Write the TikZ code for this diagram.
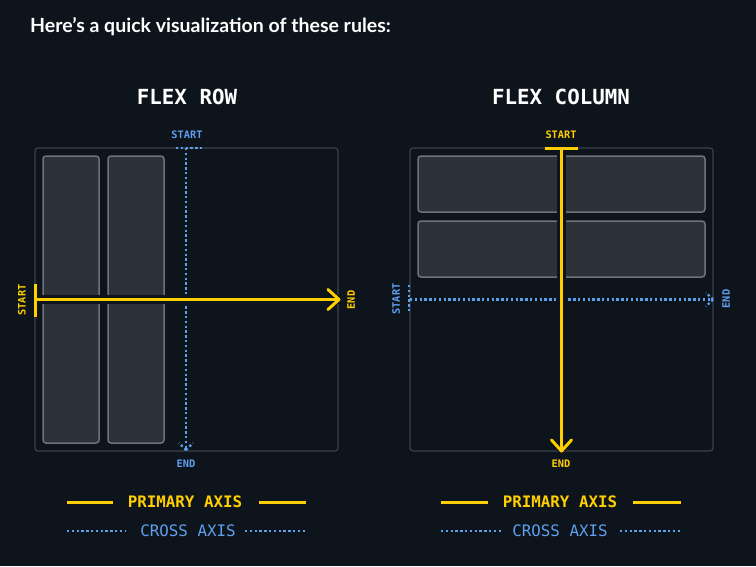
\documentclass[tikz,border=0pt]{standalone}
\usepackage{fontspec}
\setmainfont{Lato}
\newfontfamily\monob{DejaVu Sans Mono}[BoldFont={DejaVu Sans Mono Bold}]
\definecolor{bg}{HTML}{0E141B}
\definecolor{frame}{HTML}{3C424A}
\definecolor{boxfill}{HTML}{2C3239}
\definecolor{boxline}{HTML}{6E737B}
\definecolor{gold}{HTML}{FFCF00}
\definecolor{sky}{HTML}{5E9FEE}
\tikzset{
  container/.style={draw=frame, line width=1.2pt, rounded corners=3pt},
  itembox/.style={draw=boxline, fill=boxfill, line width=1.5pt, rounded corners=3pt},
  halo/.style={draw=bg, line width=9pt},
  primary/.style={draw=gold, line width=3pt},
  cross/.style={draw=sky, line width=2.3pt, dash pattern=on 2.3pt off 2.5pt},
  heading/.style={text=white, font=\monob\bfseries\fontsize{20.8}{24}\selectfont},
  smallgold/.style={text=gold, font=\monob\bfseries\fontsize{10.3}{12}\selectfont, inner sep=0pt},
  smallsky/.style={text=sky, font=\monob\bfseries\fontsize{10.3}{12}\selectfont, inner sep=0pt},
  legendgold/.style={text=gold, font=\monob\bfseries\fontsize{15.8}{18}\selectfont, inner sep=0pt},
  legendsky/.style={text=sky, font=\monob\fontsize{15.8}{18}\selectfont, inner sep=0pt},
}
\begin{document}
\begin{tikzpicture}[x=1pt, y=-1pt]
\fill[bg] (0,0) rectangle (756,566);
\useasboundingbox (0,0) rectangle (756,566);

% title
\node[anchor=base west, text=white, font=\bfseries\fontsize{19.5}{23}\selectfont, inner sep=0pt] (title) at (30,32) {Here{\char"0027}s a quick visualization of these rules:};

% ---------- FLEX ROW ----------
\node[heading] (rowhead) at (187,97) {FLEX ROW};
\draw[container] (35,148) rectangle (338,451);
\draw[itembox] (43,156) rectangle (99,443);
\draw[itembox] (108,156) rectangle (164,443);

% cross axis (vertical dotted)
\coordinate (rcs) at (186,148);
\coordinate (rce) at (186,450);
\draw[cross] (rcs) -- (rce);
\draw[cross] (176,148) -- (202,148);
\draw[cross] (rce) -- (179,443);
\draw[cross] (rce) -- (193,443);
\node[smallsky] (rcstart) at (187,135) {START};
\node[smallsky] (rcend) at (186,464) {END};

% primary axis (horizontal)
\coordinate (rps) at (35,299.5);
\coordinate (rpe) at (339,299.5);
\draw[halo] (rps) -- (rpe);
\draw[primary] (rps) -- (rpe);
\draw[primary] (35,284) -- (35,317);
\draw[primary, line cap=round, line join=round] (328,289.5) -- (rpe) -- (328,309.5);
\node[smallgold, rotate=90] (rpstart) at (22,300) {START};
\node[smallgold, rotate=90] (rpend) at (351,300) {END};

% legend left
\node[legendgold] (lg1) at (185,502) {PRIMARY AXIS};
\draw[primary] (67,502) -- (113,502);
\draw[primary] (259,502) -- (306,502);
\node[legendsky] (ls1) at (188,531) {CROSS AXIS};
\draw[cross] (67,531) -- (126,531);
\draw[cross] (245,531) -- (306,531);

% ---------- FLEX COLUMN ----------
\node[heading] (colhead) at (561,97) {FLEX COLUMN};
\draw[container] (410,148) rectangle (713,451);
\draw[itembox] (418,156) rectangle (705,212);
\draw[itembox] (418,221) rectangle (705,277);

% cross axis (horizontal dotted)
\coordinate (ccs) at (410,299.5);
\coordinate (cce) at (713,299.5);
\draw[cross] (ccs) -- (cce);
\draw[cross] (409,285) -- (409,312);
\draw[cross] (cce) -- (706,292.5);
\draw[cross] (cce) -- (706,306.5);
\node[smallsky, rotate=90] (ccstart) at (396,299) {START};
\node[smallsky, rotate=90] (ccend) at (726,299) {END};

% primary axis (vertical)
\coordinate (cps) at (561.5,148);
\coordinate (cpe) at (561.5,451);
\draw[halo] (cps) -- (cpe);
\draw[primary] (cps) -- (cpe);
\draw[primary] (545,148) -- (578,148);
\draw[primary, line cap=round, line join=round] (551.5,440) -- (cpe) -- (571.5,440);
\node[smallgold] (cpstart) at (561,135) {START};
\node[smallgold] (cpend) at (561,464) {END};

% legend right
\node[legendgold] (lg2) at (560,502) {PRIMARY AXIS};
\draw[primary] (441,502) -- (488,502);
\draw[primary] (633,502) -- (681,502);
\node[legendsky] (ls2) at (560,531) {CROSS AXIS};
\draw[cross] (441,531) -- (502,531);
\draw[cross] (620,531) -- (681,531);
\end{tikzpicture}
\end{document}
